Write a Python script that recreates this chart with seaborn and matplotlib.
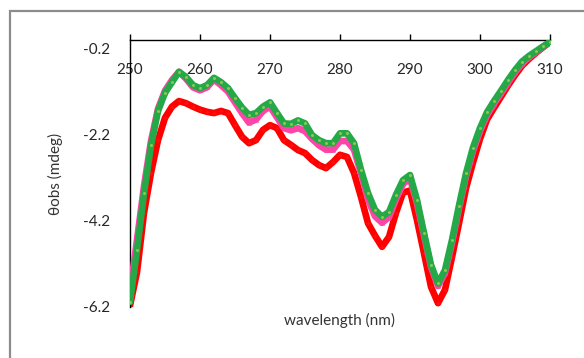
import numpy as np
import pandas as pd
import seaborn as sns
import matplotlib.pyplot as plt
from matplotlib.patches import Rectangle

sns.set_style("white")
plt.rcParams['font.family'] = ['Lato', 'DejaVu Sans']

# wavelength in nm, theta obs in mdeg
wavelength = list(range(250, 311))

red = [-6.18, -5.40, -4.02, -3.09, -2.33, -1.81, -1.55, -1.42, -1.47, -1.55,
       -1.62, -1.67, -1.70, -1.65, -1.70, -1.98, -2.25, -2.40, -2.33, -2.09,
       -1.98, -2.05, -2.33, -2.44, -2.56, -2.63, -2.79, -2.91, -2.98, -2.84,
       -2.67, -2.72, -3.09, -3.65, -4.26, -4.55, -4.81, -4.58, -4.02, -3.55,
       -3.50, -4.19, -4.96, -5.74, -6.12, -5.81, -5.05, -4.26, -3.45, -2.85,
       -2.30, -1.85, -1.58, -1.32, -1.06, -0.82, -0.60, -0.44, -0.30, -0.17,
       -0.04]

pink = [-5.85, -4.65, -3.40, -2.35, -1.60, -1.18, -0.93, -0.74, -0.90, -1.10,
        -1.17, -1.10, -0.92, -1.05, -1.20, -1.45, -1.70, -1.92, -1.85, -1.65,
        -1.55, -1.80, -2.05, -2.10, -2.05, -2.12, -2.30, -2.45, -2.55, -2.55,
        -2.35, -2.35, -2.55, -3.10, -3.70, -4.10, -4.25, -4.12, -3.70, -3.35,
        -3.22, -3.80, -4.55, -5.28, -5.72, -5.42, -4.72, -3.92, -3.17, -2.58,
        -2.12, -1.75, -1.48, -1.24, -0.99, -0.75, -0.55, -0.40, -0.28, -0.16,
        -0.05]

green = [-6.09, -4.88, -3.56, -2.45, -1.65, -1.23, -0.98, -0.74, -0.86, -1.05,
         -1.12, -1.05, -0.88, -0.98, -1.12, -1.35, -1.57, -1.74, -1.70, -1.55,
         -1.45, -1.70, -1.94, -1.95, -1.87, -1.94, -2.21, -2.33, -2.40, -2.40,
         -2.17, -2.17, -2.40, -3.02, -3.56, -3.95, -4.11, -4.00, -3.60, -3.26,
         -3.14, -3.72, -4.49, -5.23, -5.66, -5.35, -4.65, -3.85, -3.10, -2.50,
         -2.05, -1.68, -1.42, -1.18, -0.93, -0.70, -0.50, -0.37, -0.26, -0.15,
         -0.05]

ytick_vals = [-0.2, -2.2, -4.2, -6.2]
xtick_vals = [250, 260, 270, 280, 290, 300, 310]

df = pd.DataFrame({'wavelength': wavelength, 'red': red, 'pink': pink, 'green': green})

fig = plt.figure(figsize=(5.84, 3.58), dpi=100)
ax = fig.add_axes([130 / 584, 1 - 306.6 / 358, 420 / 584, 266.6 / 358])

# outer chart frame, cropped on the right and bottom
fig.patches.append(Rectangle((10 / 584, -0.1), 1.2, 1 - 11 / 358 + 0.1,
                             transform=fig.transFigure, fill=False,
                             edgecolor='#8c8c8c', linewidth=1.6))

sns.lineplot(x='wavelength', y='red', data=df, ax=ax, color='#ff0000', linewidth=4.8,
             marker='+', markersize=3.5, markeredgewidth=1, markeredgecolor='#ff1010', zorder=2)
sns.lineplot(x='wavelength', y='pink', data=df, ax=ax, color='#ff44a8', linewidth=4.8,
             marker='x', markersize=3, markeredgewidth=1, markeredgecolor='#ff44a8', zorder=3)
sns.lineplot(x='wavelength', y='green', data=df, ax=ax, color='#25a848', linewidth=4.8,
             marker='o', markersize=3, markeredgewidth=0.8, markerfacecolor='#8cc850',
             markeredgecolor='#25a848', zorder=4)

ax.set_xlim(250, 310)
ax.set_ylim(-6.2, 0)
ax.set_yticks(ytick_vals)
ax.set_yticklabels(['-0.2', '-2.2', '-4.2', '-6.2'])
ax.set_xticks(xtick_vals)

ax.xaxis.tick_top()
ax.tick_params(axis='x', top=True, bottom=False, labeltop=True, labelbottom=False,
               direction='out', length=4, width=1, color='black', pad=-31,
               labelsize=11, labelcolor='#262626')
ax.tick_params(axis='y', left=False, length=0, pad=14, labelsize=11, labelcolor='#262626')

for side in ['right', 'bottom']:
    ax.spines[side].set_visible(False)
for side in ['top', 'left']:
    ax.spines[side].set_color('black')
    ax.spines[side].set_linewidth(1)

ax.set_xlabel('')
ax.set_ylabel('')
fig.text(340 / 584, 1 - 320 / 358, 'wavelength (nm)', ha='center', va='center',
         fontsize=11, color='#333333')
fig.text(55 / 584, 1 - 174 / 358, 'θobs (mdeg)', ha='center', va='center',
         rotation=90, fontsize=11, color='#333333')

fig.savefig('out.png', dpi=100)
